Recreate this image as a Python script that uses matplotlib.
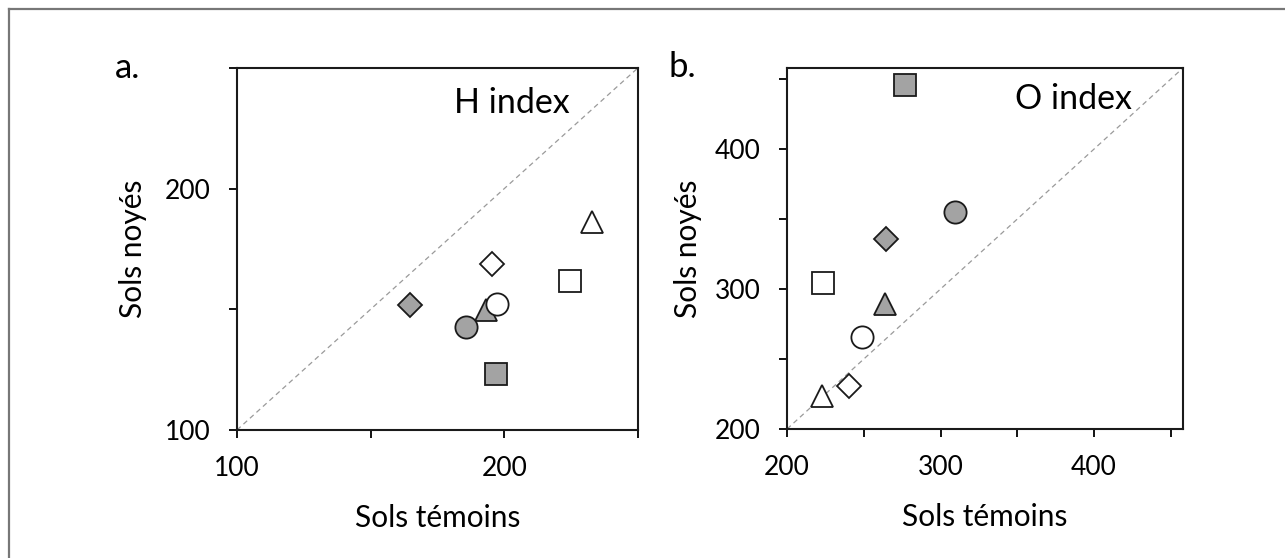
import matplotlib.pyplot as plt
from matplotlib.lines import Line2D

plt.rcParams["font.family"] = ["Lato", "DejaVu Sans"]

# marker style for each of the 8 samples (same order in both panels)
markers = ["D", "D", "^", "^", "s", "s", "o", "o"]
filled = [True, False, True, False, True, False, True, False]

# H index: sols témoins (x) vs sols noyés (y)
h_temoins = [164.7, 195.5, 193.0, 232.7, 196.9, 224.4, 185.8, 197.2]
h_noyes = [151.6, 168.9, 149.8, 186.2, 123.1, 161.7, 142.6, 152.3]

# O index
o_temoins = [264.3, 240.1, 263.6, 222.8, 276.6, 223.7, 309.6, 248.7]
o_noyes = [336.0, 230.5, 289.0, 223.3, 445.7, 304.0, 355.3, 265.9]

GREY = "#a3a3a3"
SIZES = {"D": 12, "^": 16, "s": 16, "o": 16}


def _Panel(ax, xs, ys, lim, ticks, labels, title):
    ax.plot(lim, lim, color="#9a9a9a", lw=0.9, ls=(0, (4, 3)), zorder=1)
    for x, y, m, f in zip(xs, ys, markers, filled):
        ax.plot(
            x, y, marker=m, ms=SIZES[m], mfc=GREY if f else "white",
            mec="#1a1a1a", mew=1.3, ls="none", zorder=3,
        )
    ax.set_xlim(lim)
    ax.set_ylim(lim)
    ax.set_xticks(ticks)
    ax.set_yticks(ticks)
    ax.set_xticklabels(labels)
    ax.set_yticklabels(labels)
    ax.tick_params(direction="out", length=6, width=1.3, labelsize=19, pad=13)
    for s in ax.spines.values():
        s.set_linewidth(1.5)
        s.set_color("#1a1a1a")
        s.set_zorder(6)
    ax.set_xlabel("Sols témoins", fontsize=21.5)
    ax.set_ylabel("Sols noyés", fontsize=21.5)
    ax.xaxis.set_label_coords(0.5, -0.205)
    ax.text(title[1], title[2], title[0], transform=ax.transAxes,
            fontsize=24.5, ha="center", va="center")


fig = plt.figure(figsize=(12.85, 5.58), dpi=100)

ax1 = fig.add_axes([0.1844, 0.2294, 0.3121, 0.6490])
_Panel(ax1, h_temoins, h_noyes, (100, 250), [100, 150, 200, 250],
       ["100", "", "200", ""], ("H index", 0.686, 0.904))
ax1.yaxis.set_label_coords(-0.224, 0.5)

ax2 = fig.add_axes([0.6125, 0.2312, 0.3082, 0.6472])
_Panel(ax2, o_temoins, o_noyes, (200, 458), [200, 250, 300, 350, 400, 450],
       ["200", "", "300", "", "400", ""], ("O index", 0.722, 0.914))
ax2.yaxis.set_label_coords(-0.215, 0.5)

fig.text(0.0895, 0.86, "a.", fontsize=25, ha="left", va="baseline")
fig.text(0.5205, 0.862, "b.", fontsize=25, ha="left", va="baseline")

# outer frame (only top and left edges visible)
fig.add_artist(Line2D([0.007, 0.007], [0, 0.984], color="#777777", lw=1.6,
                      transform=fig.transFigure))
fig.add_artist(Line2D([0.007, 1.0], [0.984, 0.984], color="#777777", lw=1.6,
                      transform=fig.transFigure))

fig.savefig("out.png", dpi=100)
